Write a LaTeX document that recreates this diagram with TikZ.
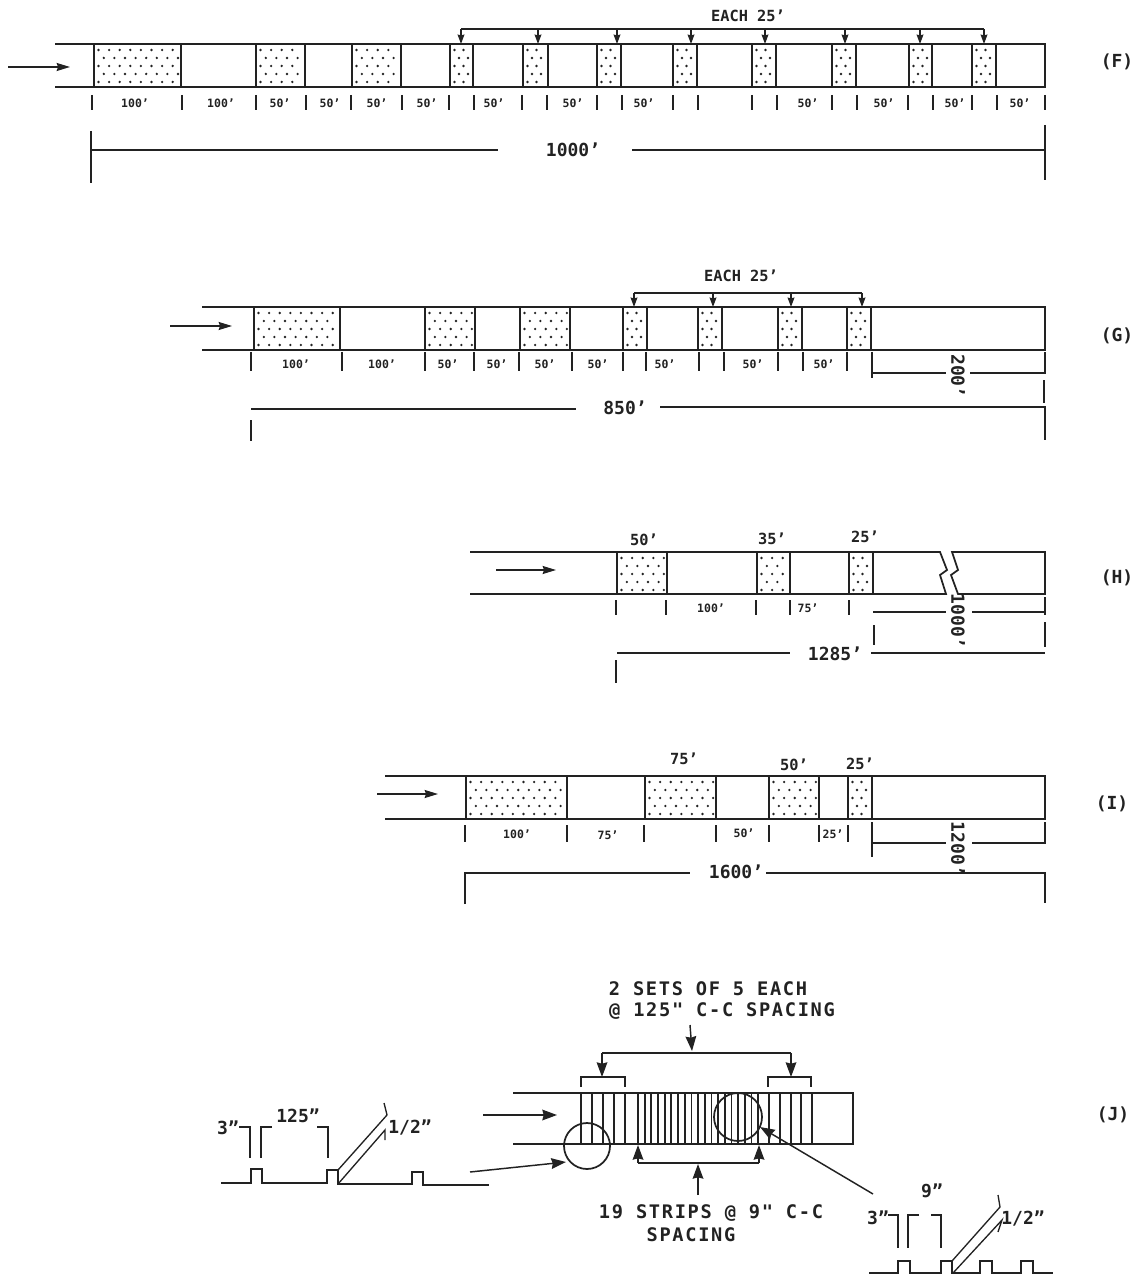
\documentclass[tikz,border=0pt]{standalone}
\usepackage{fontspec}
\setmainfont{DejaVu Sans Mono}
\newfontfamily\jfont[LetterSpace=9]{DejaVu Sans Mono}
\usetikzlibrary{arrows.meta}
\definecolor{ink}{HTML}{222222}
\newcommand{\stip}[4]{% x1 x2 y1 y2
  \pgfmathsetmacro{\stw}{#2-#1}
  \pgfmathsetmacro{\sth}{#4-#3}
  \pgfmathtruncatemacro{\strw}{int((\sth-6)/8.0)}
  \pgfmathsetmacro{\stdx}{\stw<30?9:10.6}
  \pgfmathtruncatemacro{\stc}{int((\stw-6)/\stdx)}
  \foreach \ri in {0,...,\strw}{
    \foreach \ci in {0,...,\stc}{
      \pgfmathsetmacro{\stpx}{#1+4.5+(\ci+0.5*mod(\ri,2))*\stdx}
      \pgfmathsetmacro{\stpy}{#3+6+\ri*8.0}
      \pgfmathtruncatemacro{\stok}{\stpx<(#2-2.5)?1:0}
      \ifnum\stok=1 \fill[ink] (\stpx,\stpy) circle (1.3);\fi
    }
  }
}
\newcommand{\stbox}[4]{\stip{#1}{#2}{#3}{#4}\draw[wall] (#1,#3) -- (#1,#4) (#2,#3) -- (#2,#4);}
\tikzset{
  x=0.75pt,y=-0.75pt,
  wall/.style={ink,line width=1.3pt},
  thin line/.style={ink,line width=1pt},
  arr/.style={ink,line width=1.1pt,-{Stealth[length=10pt,width=6pt,inset=1pt]}},
  bigarr/.style={ink,line width=1.1pt,-{Stealth[length=11pt,width=8pt,inset=1pt]}},
  smallarr/.style={ink,line width=1.1pt,-{Stealth[length=7pt,width=5pt,inset=0.5pt]}},
  lab/.style={inner sep=0pt,font=\fontsize{8.6}{9}\selectfont\bfseries,text=ink},
  dimlab/.style={inner sep=0pt,font=\fontsize{13.5}{14}\selectfont\bfseries,text=ink},
  head/.style={inner sep=0pt,font=\fontsize{11.5}{12}\selectfont\bfseries,text=ink},
  proflab/.style={inner sep=0pt,font=\fontsize{13.5}{14}\selectfont\bfseries,text=ink},
  jtext/.style={inner sep=0pt,font=\jfont\fontsize{14}{15}\selectfont\bfseries,text=ink},
  side/.style={inner sep=0pt,font=\fontsize{13.5}{14}\selectfont\bfseries,text=ink},
}
\begin{document}
\begin{tikzpicture}
\useasboundingbox (0,0) rectangle (1140,1276);
% ---------- F
\draw[wall] (55,44) -- (1045,44) -- (1045,87) -- (55,87);
\stbox{94}{181}{44}{87}\stbox{256}{305}{44}{87}\stbox{352}{401}{44}{87}
\stbox{450}{473}{44}{87}\stbox{523}{548}{44}{87}\stbox{597}{621}{44}{87}\stbox{673}{697}{44}{87}
\stbox{752}{776}{44}{87}\stbox{832}{856}{44}{87}\stbox{909}{932}{44}{87}\stbox{972}{996}{44}{87}
\draw[arr] (8,67) -- (70,67);
\foreach \x in {92,182,256,306,351,402,449,474,522,547,597,622,673,698,752,777,832,857,908,933,972,997,1045}
  \draw[thin line] (\x,95) -- (\x,110);
\foreach \x/\t in {135/100',221/100',280/50',330/50',377/50',427/50',494/50',573/50',644/50',808/50',884/50',955/50',1020/50'}
  \node[lab] (f\x) at (\x,103) {\t};
\node[dimlab] (fd) at (573,150) {1000'};
\draw[thin line] (91,131) -- (91,183) (91,150) -- (498,150);
\draw[thin line] (632,150) -- (1045,150) (1045,125) -- (1045,180);
\node[head] (fe) at (748,16) {EACH 25'};
\draw[thin line] (461,29) -- (984,29);
\foreach \x in {461,538,617,691,765,845,920,984} \draw[smallarr] (\x,29) -- (\x,44);
\node[side] (fs) at (1117,62) {(F)};
% ---------- G
\draw[wall] (202,307) -- (1045,307) -- (1045,350) -- (202,350);
\stbox{254}{340}{307}{350}\stbox{425}{475}{307}{350}\stbox{520}{570}{307}{350}
\stbox{623}{647}{307}{350}\stbox{698}{722}{307}{350}\stbox{778}{802}{307}{350}\stbox{847}{871}{307}{350}
\draw[arr] (170,326) -- (232,326);
\foreach \x in {251,342,425,474,519,572,623,646,699,724,778,803,847}
  \draw[thin line] (\x,352) -- (\x,371);
\foreach \x/\t in {296/100',382/100',448/50',497/50',545/50',598/50',665/50',753/50',824/50'}
  \node[lab] (g\x) at (\x,364) {\t};
\draw[wall,line width=1.8pt] (872,352) -- (872,378);
\draw[thin line] (872,373) -- (946,373) (970,373) -- (1045,373) -- (1045,352) (1044,380) -- (1044,403);
\node[dimlab,rotate=-90] (g200) at (958,376) {200'};
\node[dimlab] (gd) at (625,408) {850'};
\draw[thin line] (251,409) -- (576,409) (660,407) -- (1045,407) -- (1045,440) (251,420) -- (251,441);
\node[head] (ge) at (741,276) {EACH 25'};
\draw[thin line] (634,293) -- (862,293);
\foreach \x in {634,713,791,862} \draw[smallarr] (\x,293) -- (\x,307);
\node[side] (gs) at (1117,336) {(G)};
% ---------- H
\draw[wall] (470,552) -- (940,552) -- (947,570) -- (940,575) -- (946,594) -- (470,594);
\draw[wall] (952,552) -- (1045,552) -- (1045,594) -- (958,594) -- (951,575) -- (958,570) -- cycle;
\stbox{617}{667}{552}{594}\stbox{757}{790}{552}{594}\stbox{849}{873}{552}{594}
\draw[arr] (496,570) -- (556,570);
\foreach \x in {616,666,756,790,849} \draw[thin line] (\x,600) -- (\x,615);
\node[lab] (h100) at (711,608) {100'};
\node[lab] (h75) at (808,608) {75'};
\node[head] (h50t) at (644,540) {50'};
\node[head] (h35t) at (772,539) {35'};
\node[head] (h25t) at (865,537) {25'};
\draw[thin line] (873,612) -- (946,612) (972,612) -- (1045,612);
\draw[wall,line width=2pt] (1045,597) -- (1045,615);
\draw[thin line] (874,625) -- (874,645) (1045,622) -- (1045,647);
\node[dimlab,rotate=-90] (h1000) at (958,621) {1000'};
\node[dimlab] (hd) at (835,654) {1285'};
\draw[thin line] (617,653) -- (790,653) (871,653) -- (1045,653) (616,660) -- (616,683);
\node[side] (hs) at (1117,578) {(H)};
% ---------- I
\draw[wall] (385,776) -- (1045,776) -- (1045,819) -- (385,819);
\stbox{466}{567}{776}{819}\stbox{645}{716}{776}{819}\stbox{769}{819}{776}{819}\stbox{848}{872}{776}{819}
\draw[arr] (377,794) -- (438,794);
\foreach \x in {465,567,644,716,769,819,848} \draw[thin line] (\x,825) -- (\x,842);
\node[lab] (i100) at (517,834) {100'};
\node[lab] (i75) at (608,835) {75'};
\node[lab] (i50) at (744,833) {50'};
\node[lab] (i25) at (833,834) {25'};
\node[head] (i75t) at (684,759) {75'};
\node[head] (i50t) at (794,765) {50'};
\node[head] (i25t) at (860,764) {25'};
\draw[thin line] (872,822) -- (872,857) (872,843) -- (946,843) (972,843) -- (1045,843) -- (1045,822);
\node[dimlab,rotate=-90] (i1200) at (958,849) {1200'};
\node[dimlab] (id) at (736,872) {1600'};
\draw[thin line] (465,904) -- (465,873) -- (690,873) (766,873) -- (1045,873) -- (1045,903);
\node[side] (is) at (1112,804) {(I)};
% ---------- J channel
\draw[wall] (513,1093) -- (853,1093) -- (853,1144) -- (513,1144);
\foreach \x in {581,592,603,614,625,758,769,780,791,801,812} \draw[wall] (\x,1093) -- (\x,1144);
\foreach \i in {0,...,18} \draw[wall] (638+\i*6.67,1093) -- (638+\i*6.67,1144);
\draw[bigarr] (483,1115) -- (557,1115);
\draw[thin line] (581,1087) -- (581,1077) -- (625,1077) -- (625,1087);
\draw[thin line] (768,1087) -- (768,1077) -- (811,1077) -- (811,1087);
\draw[bigarr] (602,1053) -- (602,1077);
\draw[bigarr] (791,1053) -- (791,1077);
\draw[thin line] (602,1053) -- (791,1053);
\draw[bigarr] (690,1025) -- (692,1051);
\node[jtext] (jt1) at (708,989) {2 SETS OF 5 EACH};
\node[jtext] (jt2) at (722,1011) {@ 125" C-C SPACING};
\draw[thin line] (638,1163) -- (759,1163);
\draw[bigarr] (638,1163) -- (638,1145);
\draw[bigarr] (759,1163) -- (759,1145);
\draw[bigarr] (698,1195) -- (698,1164);
\node[jtext] (jb1) at (711,1213) {19 STRIPS @ 9" C-C};
\node[jtext] (jb2) at (691,1235) {SPACING};
\draw[wall] (587,1146) circle (23);
\draw[wall] (738,1117) circle (24);
\draw[bigarr] (470,1172) -- (566,1162);
\draw[bigarr] (873,1194) -- (760,1127);
\node[side] (js) at (1113,1115) {(J)};
% ---------- left profile
\draw[wall] (221,1183) -- (251,1183) -- (251,1169) -- (262,1169) -- (262,1183) -- (327,1183) -- (327,1170) -- (338,1170) -- (338,1184) -- (412,1184) -- (412,1172) -- (423,1172) -- (423,1185) -- (489,1185);
\draw[thin line] (338,1170) -- (387,1115) -- (384,1103);
\draw[thin line] (338,1184) -- (385,1130) -- (385,1140);
\draw[thin line] (239,1127) -- (250,1127) -- (250,1158) (272,1127) -- (261,1127) -- (261,1158) (317,1127) -- (328,1127) -- (328,1158);
\node[proflab] (lp3) at (228,1128) {3"};
\node[proflab] (lp125) at (298,1116) {125"};
\node[proflab] (lp12) at (410,1127) {1/2"};
% ---------- right profile
\draw[wall] (869,1273) -- (898,1273) -- (898,1261) -- (910,1261) -- (910,1273) -- (941,1273) -- (941,1261) -- (952,1261) -- (952,1273) -- (980,1273) -- (980,1261) -- (992,1261) -- (992,1273) -- (1021,1273) -- (1021,1261) -- (1033,1261) -- (1033,1273) -- (1053,1273);
\draw[thin line] (952,1261) -- (1000,1207) -- (998,1195);
\draw[thin line] (953,1273) -- (1002,1220) -- (998,1232);
\draw[thin line] (888,1215) -- (898,1215) -- (898,1248) (919,1215) -- (908,1215) -- (908,1248) (931,1215) -- (941,1215) -- (941,1248);
\node[proflab] (rp3) at (878,1218) {3"};
\node[proflab] (rp9) at (932,1191) {9"};
\node[proflab] (rp12) at (1023,1218) {1/2"};
\end{tikzpicture}
\end{document}
